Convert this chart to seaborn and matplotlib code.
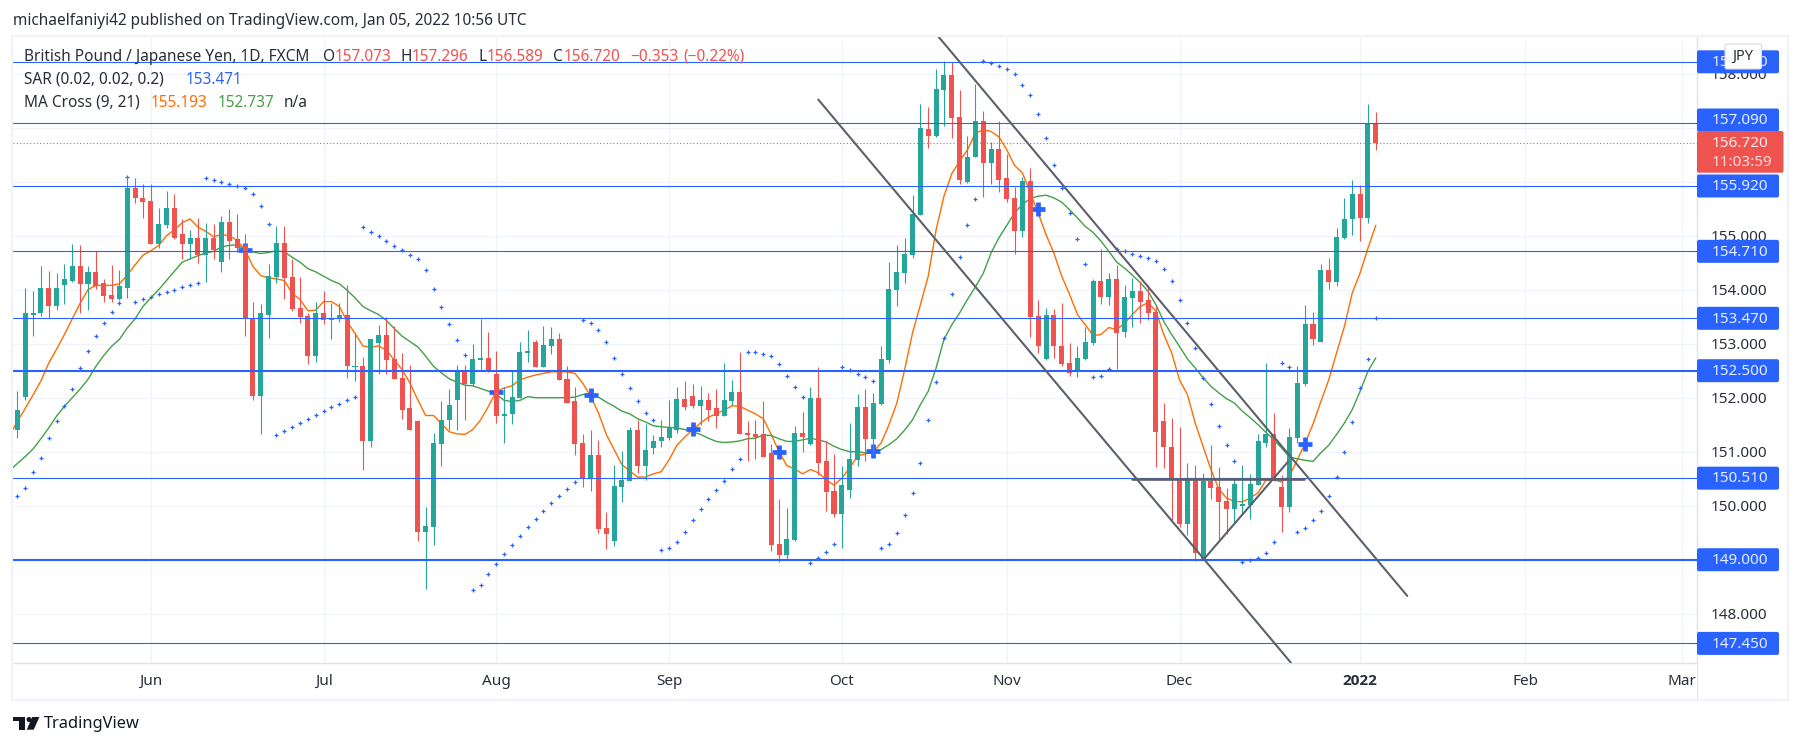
import numpy as np
import matplotlib
matplotlib.use('Agg')
import matplotlib.pyplot as plt
from matplotlib.patches import Rectangle, FancyBboxPatch, Circle, Polygon
from matplotlib.transforms import IdentityTransform
import seaborn as sns

# daily GBP/JPY candles
opens = [151.41, 152.02, 153.54, 153.56, 154.04, 153.70, 154.09, 154.17, 154.43, 154.11,
         154.32, 154.13, 153.91, 153.83, 154.04, 155.89, 155.69, 155.65, 154.85, 155.20,
         155.52, 155.04, 154.85, 154.95, 154.65, 154.96, 154.52, 155.26, 154.93, 154.80,
         153.47, 152.04, 153.54, 154.24, 154.87, 154.24, 153.67, 153.52, 152.78, 153.57,
         153.43, 153.46, 153.54, 152.57, 152.59, 151.19, 153.02, 153.17, 152.72, 152.37,
         151.80, 151.56, 149.52, 149.61, 151.15, 151.58, 151.95, 152.50, 152.26, 152.70,
         152.74, 152.43, 151.67, 151.69, 152.00, 152.83, 153.04, 152.57, 152.96, 153.09,
         152.35, 151.93, 151.17, 150.50, 150.93, 149.58, 149.35, 150.35, 150.45, 151.41,
         150.74, 151.06, 151.19, 151.26, 151.41, 151.98, 152.04, 151.85, 151.95, 151.80,
         151.67, 151.93, 152.11, 151.35, 151.32, 151.32, 150.98, 149.30, 149.09, 149.37,
         151.35, 151.15, 152.00, 150.82, 150.28, 149.85, 150.30, 150.85, 151.82, 151.24,
         151.89, 152.70, 154.00, 154.31, 154.65, 155.39, 156.98, 156.85, 157.70, 157.98,
         157.19, 156.00, 156.45, 157.13, 156.35, 156.61, 156.06, 155.69, 155.08, 156.02,
         153.52, 152.72, 153.54, 152.96, 152.65, 152.47, 152.72, 153.02, 154.17, 153.87,
         154.19, 153.21, 153.85, 153.98, 153.80, 153.58, 151.56, 151.09, 150.48, 149.67,
         150.48, 149.00, 150.46, 150.34, 150.08, 149.93, 150.00, 150.02, 150.39, 151.17,
         151.32, 150.35, 149.98, 151.26, 152.26, 153.37, 153.04, 154.37, 154.15, 154.96,
         155.30, 155.78, 155.33, 157.073]
highs = [152.13, 154.04, 153.98, 154.44, 154.35, 154.30, 154.48, 154.85, 154.83, 154.43,
         154.71, 154.20, 154.46, 154.37, 156.10, 156.07, 155.95, 155.96, 155.52, 155.83,
         155.78, 155.30, 155.11, 155.33, 155.24, 155.22, 155.37, 155.50, 155.41, 155.04,
         153.78, 153.74, 154.48, 155.17, 155.17, 154.56, 154.24, 153.56, 153.78, 153.98,
         153.76, 153.76, 154.09, 153.19, 152.76, 153.09, 153.35, 153.50, 153.32, 152.82,
         152.61, 151.58, 149.98, 151.35, 151.93, 152.17, 152.61, 152.61, 153.00, 153.45,
         153.22, 152.87, 152.20, 152.52, 153.04, 153.26, 153.07, 153.33, 153.30, 153.20,
         152.59, 152.20, 151.33, 151.41, 151.22, 149.89, 150.76, 151.02, 151.46, 151.59,
         151.52, 151.30, 151.59, 151.96, 152.20, 152.30, 152.26, 152.22, 152.09, 152.17,
         152.65, 152.33, 152.85, 151.56, 151.58, 151.93, 151.15, 150.13, 149.96, 151.48,
         151.74, 152.20, 152.57, 151.20, 150.96, 150.74, 151.54, 152.06, 152.17, 152.09,
         152.95, 154.51, 154.83, 154.96, 155.76, 157.44, 157.39, 158.09, 158.24, 158.22,
         157.69, 156.85, 157.80, 157.30, 156.74, 157.13, 156.52, 155.91, 156.09, 156.26,
         153.80, 153.67, 153.65, 153.76, 153.02, 152.95, 153.30, 154.20, 154.76, 154.30,
         154.46, 154.08, 154.22, 154.17, 154.08, 153.69, 151.91, 151.63, 151.45, 150.80,
         150.76, 150.61, 151.13, 150.71, 150.32, 150.52, 150.76, 150.59, 151.32, 152.65,
         151.72, 150.56, 151.43, 152.59, 153.72, 153.58, 154.48, 154.59, 155.14, 155.69,
         156.04, 155.93, 157.44, 157.296]
lows = [151.26, 151.96, 153.15, 153.52, 153.48, 153.63, 153.74, 154.15, 153.56, 153.63,
        154.02, 153.78, 153.78, 153.80, 153.85, 155.61, 155.32, 154.85, 154.78, 155.15,
        154.93, 154.56, 154.57, 154.50, 154.15, 154.57, 154.33, 154.56, 154.69, 153.15,
        151.96, 151.32, 153.11, 154.13, 153.83, 153.61, 153.39, 152.63, 152.67, 153.37,
        153.09, 153.41, 152.37, 152.30, 150.67, 151.09, 152.43, 152.43, 152.35, 151.61,
        151.41, 149.34, 148.45, 149.28, 150.74, 151.41, 151.41, 151.58, 152.21, 152.52,
        152.48, 151.54, 151.17, 151.52, 152.00, 152.67, 152.57, 152.57, 152.80, 152.33,
        151.91, 150.93, 150.35, 150.28, 149.50, 149.19, 149.26, 150.06, 150.45, 150.61,
        150.47, 150.95, 151.08, 151.22, 151.35, 151.78, 151.80, 151.50, 151.56, 151.43,
        151.67, 151.87, 151.33, 150.83, 150.87, 150.91, 149.17, 148.95, 149.02, 149.34,
        151.00, 151.13, 150.56, 149.91, 149.80, 149.22, 150.15, 150.74, 150.82, 150.92,
        151.87, 152.65, 153.69, 154.13, 154.59, 155.39, 156.63, 156.83, 157.04, 156.80,
        155.95, 155.98, 156.45, 155.72, 155.95, 155.80, 155.63, 154.67, 154.98, 153.13,
        152.82, 152.70, 152.74, 152.58, 152.41, 152.39, 152.70, 152.98, 153.74, 153.72,
        152.54, 153.13, 153.30, 153.39, 153.43, 150.72, 150.69, 149.73, 149.61, 149.45,
        148.97, 149.00, 150.13, 149.37, 149.48, 149.67, 149.85, 149.76, 150.38, 151.09,
        150.45, 149.52, 149.89, 151.16, 152.21, 152.98, 153.03, 154.02, 154.06, 154.93,
        155.02, 154.91, 155.24, 156.589]
closes = [151.78, 153.56, 153.57, 154.04, 153.70, 154.04, 154.19, 154.43, 154.11, 154.32,
          154.06, 153.89, 153.83, 154.06, 155.89, 155.70, 155.63, 154.85, 155.22, 155.52,
          154.96, 154.85, 154.95, 154.65, 154.96, 154.74, 155.26, 154.91, 154.78, 153.45,
          152.04, 153.56, 154.26, 154.87, 154.22, 153.65, 153.50, 152.78, 153.57, 153.43,
          153.48, 153.54, 152.58, 152.59, 151.19, 153.09, 153.17, 152.70, 152.35, 151.78,
          151.41, 149.52, 149.63, 151.17, 151.59, 151.87, 152.50, 152.26, 152.72, 152.74,
          152.48, 151.67, 151.70, 152.02, 152.85, 152.87, 152.57, 152.98, 153.09, 152.33,
          151.91, 151.15, 150.50, 150.93, 149.56, 149.48, 150.37, 150.47, 151.41, 150.74,
          151.04, 151.20, 151.28, 151.43, 151.98, 151.83, 151.85, 151.95, 151.78, 151.67,
          151.95, 152.11, 151.33, 151.30, 151.28, 150.91, 149.28, 149.09, 149.39, 151.35,
          151.28, 152.00, 150.80, 150.26, 149.85, 150.39, 150.87, 151.82, 151.24, 151.91,
          152.72, 154.01, 154.33, 154.67, 155.41, 157.00, 156.85, 157.72, 157.98, 157.17,
          156.04, 156.46, 157.13, 156.35, 156.61, 156.04, 155.67, 155.08, 156.02, 153.50,
          152.95, 153.54, 152.95, 152.63, 152.46, 152.74, 153.04, 154.17, 153.87, 154.19,
          153.19, 153.87, 153.98, 153.78, 153.56, 151.37, 151.08, 150.47, 149.67, 150.48,
          149.13, 150.46, 150.32, 150.06, 149.93, 150.41, 150.04, 150.41, 151.19, 151.32,
          150.45, 149.98, 151.28, 152.28, 153.37, 153.08, 154.37, 154.15, 154.98, 155.31,
          155.78, 155.33, 157.09, 156.72]

# MA cross lines, the first value belongs to the bar just left of the chart
ma_fast = [151.30,
           151.56, 151.80, 152.05, 152.31, 152.64, 152.90, 153.17, 153.46, 153.75, 154.00,
           154.08, 154.08, 154.08, 154.11, 154.27, 154.46, 154.64, 154.72, 154.82, 155.00,
           155.11, 155.24, 155.31, 155.16, 155.08, 154.98, 155.02, 155.00, 154.91, 154.74,
           154.43, 154.26, 154.22, 154.20, 154.17, 153.93, 153.82, 153.61, 153.62, 153.78,
           153.78, 153.69, 153.41, 153.19, 152.96, 152.93, 152.96, 152.88, 152.70, 152.52,
           152.27, 151.96, 151.67, 151.67, 151.52, 151.37, 151.33, 151.32, 151.41, 151.59,
           151.84, 152.12, 152.18, 152.22, 152.33, 152.38, 152.42, 152.45, 152.48, 152.48,
           152.48, 152.45, 152.27, 152.03, 151.72, 151.32, 151.04, 150.76, 150.64, 150.53,
           150.53, 150.59, 150.63, 150.85, 151.12, 151.27, 151.41, 151.53, 151.64, 151.70,
           151.77, 151.85, 151.84, 151.77, 151.70, 151.61, 151.32, 151.00, 150.74, 150.68,
           150.59, 150.67, 150.61, 150.48, 150.38, 150.51, 150.70, 150.92, 150.96, 151.00,
           151.16, 151.50, 151.90, 152.52, 153.20, 153.72, 154.25, 155.11, 155.73, 156.15,
           156.38, 156.59, 156.90, 156.96, 156.93, 156.83, 156.59, 156.30, 156.16, 155.79,
           155.42, 155.02, 154.68, 154.25, 153.91, 153.54, 153.35, 153.15, 153.17, 153.30,
           153.26, 153.38, 153.54, 153.69, 153.76, 153.60, 153.17, 152.83, 152.33, 152.06,
           151.53, 151.10, 150.67, 150.31, 150.14, 150.08, 150.07, 150.14, 150.24, 150.47,
           150.48, 150.44, 150.55, 150.85, 151.16, 151.51, 151.93, 152.33, 152.83, 153.32,
           153.94, 154.31, 154.77, 155.193]
ma_slow = [150.65,
           150.78, 150.91, 151.05, 151.24, 151.44, 151.66, 151.84, 152.00, 152.16, 152.34,
           152.58, 152.78, 152.95, 153.08, 153.29, 153.46, 153.69, 153.85, 154.00, 154.17,
           154.34, 154.51, 154.57, 154.63, 154.68, 154.71, 154.79, 154.82, 154.83, 154.74,
           154.70, 154.67, 154.69, 154.72, 154.70, 154.60, 154.51, 154.39, 154.33, 154.25,
           154.17, 154.11, 153.99, 153.85, 153.69, 153.61, 153.54, 153.43, 153.28, 153.14,
           153.04, 152.94, 152.77, 152.58, 152.46, 152.35, 152.29, 152.23, 152.22, 152.17,
           152.12, 152.06, 151.95, 151.93, 151.95, 152.02, 152.00, 152.00, 152.00, 152.00,
           152.00, 152.01, 152.06, 152.06, 152.01, 151.92, 151.84, 151.75, 151.70, 151.61,
           151.55, 151.48, 151.46, 151.45, 151.44, 151.41, 151.37, 151.32, 151.25, 151.19,
           151.17, 151.18, 151.20, 151.24, 151.25, 151.31, 151.30, 151.24, 151.19, 151.19,
           151.22, 151.25, 151.22, 151.18, 151.10, 151.04, 151.00, 151.00, 150.98, 150.98,
           151.04, 151.13, 151.24, 151.40, 151.59, 151.87, 152.12, 152.55, 153.08, 153.35,
           153.57, 153.82, 154.05, 154.30, 154.68, 154.96, 155.19, 155.42, 155.58, 155.69,
           155.73, 155.75, 155.70, 155.62, 155.48, 155.33, 155.17, 155.06, 154.90, 154.71,
           154.51, 154.40, 154.27, 154.13, 153.97, 153.72, 153.41, 153.17, 152.95, 152.72,
           152.55, 152.37, 152.21, 152.09, 151.98, 151.90, 151.75, 151.63, 151.50, 151.36,
           151.22, 151.07, 150.90, 150.87, 150.84, 150.82, 150.98, 151.12, 151.32, 151.53,
           151.78, 152.12, 152.49, 152.737]
sar = [150.18, 150.33, 150.62, 150.88, 151.26, 151.56, 151.84, 152.16, 152.55, 152.87,
       153.14, 153.38, 153.58, 153.75, 156.09, 153.77, 153.83, 153.87, 153.92, 153.96,
       154.00, 154.05, 154.09, 154.13, 156.07, 156.03, 156.00, 155.96, 155.92, 155.88,
       155.77, 155.55, 155.22, 151.30, 151.38, 151.46, 151.53, 151.61, 151.68, 151.75,
       151.83, 151.88, 151.96, 152.01, 155.16, 155.07, 154.99, 154.90, 154.81, 154.73,
       154.64, 154.57, 154.36, 154.01, 153.68, 153.36, 153.07, 152.79, 148.44, 148.53,
       148.73, 148.92, 149.11, 149.27, 149.44, 149.61, 149.76, 149.90, 150.05, 150.18,
       150.31, 150.44, 153.44, 153.38, 153.25, 153.03, 152.74, 152.44, 152.18, 151.94,
       151.72, 151.59, 149.18, 149.22, 149.33, 149.52, 149.74, 149.94, 150.13, 150.29,
       150.46, 150.68, 150.87, 152.85, 152.85, 152.81, 152.77, 152.62, 152.40, 152.20,
       152.01, 148.94, 149.03, 149.14, 149.29, 152.57, 152.52, 152.44, 152.38, 152.31,
       149.22, 149.29, 149.50, 149.83, 150.24, 150.79, 151.59, 152.29, 153.11, 153.92,
       154.61, 155.20, 155.68, 158.23, 158.20, 158.14, 158.09, 157.99, 157.79, 157.60,
       157.25, 156.81, 156.31, 155.88, 155.42, 154.94, 154.48, 152.39, 152.40, 152.53,
       154.75, 154.72, 154.66, 154.63, 154.59, 154.53, 154.38, 154.16, 153.81, 153.38,
       152.92, 152.37, 151.88, 151.48, 151.13, 150.83, 148.96, 148.99, 149.03, 149.13,
       149.33, 152.64, 152.57, 149.52, 149.59, 149.74, 149.90, 150.18, 150.53, 151.00,
       151.55, 152.18, 152.72, 153.471]

# crossover markers
cross_bars = [29, 61, 73, 86, 97, 109, 130, 164]
cross_prices = [154.74, 152.10, 152.05, 151.42, 150.99, 151.01, 155.49, 151.14]

# levels drawn on the chart
levels = [158.22, 157.09, 155.92, 154.71, 153.47, 152.50, 150.51, 149.00, 147.45]
thick_levels = [152.50, 149.00]
last_price = 156.72

# trend lines as (bar, price) pairs
channel_upper = ([117.1, 177.0], [158.72, 148.33])
channel_lower = ([102.0, 162.2], [157.52, 147.09])
rising_line = ([151.1, 161.85], [149.01, 150.82])
flat_line = ([142.0, 163.9], [150.49, 150.49])

month_bars = [17, 39, 61, 83, 105, 126, 148, 171, 192, 212]
month_labels = ['Jun', 'Jul', 'Aug', 'Sep', 'Oct', 'Nov', 'Dec', '2022', 'Feb', 'Mar']
price_ticks = [148, 149, 150, 151, 152, 153, 154, 155, 156, 157, 158]
# 149, 156 and 157 sit fully behind the level labels in the picture
price_labels = ['148.000', '', '150.000', '151.000', '152.000', '153.000', '154.000', '155.000', '', '', '158.000']

UP = '#26a69a'
DOWN = '#ef5350'
BLUE = '#2962ff'
ORANGE = '#ff6d00'
GREEN = '#43a047'
GREY = '#5d606b'
INK = '#2a2e39'
FRAME = '#f0f3fa'
LEGEND_SIZE = 11.1
W, H = 1801, 747

sns.set_theme(style='white')
plt.rcParams['font.family'] = ['Noto Sans', 'DejaVu Sans']

fig = plt.figure(figsize=(W / 100, H / 100), dpi=100, facecolor='white')
ax = fig.add_axes([13.4 / W, 1 - 663.4 / H, (1697 - 13.4) / W, (663.7 - 36.7) / H])
ax.set_xlim(-0.5, 213.9)
ax.set_ylim(147.08, 158.69)


def put(x, y, s, **kw):
    # text placed in picture pixels, y counted from the top
    kw.setdefault('color', INK)
    kw.setdefault('fontsize', LEGEND_SIZE)
    kw.setdefault('va', 'center')
    return fig.text(x, H - y, s, transform=IdentityTransform(), **kw)


def box(x, y, w, h, color, **kw):
    p = FancyBboxPatch((x, H - y - h), w, h, boxstyle='round,pad=0,rounding_size=2',
                       facecolor=color, transform=IdentityTransform(), **kw)
    fig.add_artist(p)


bars = np.arange(len(closes))
colors = [UP if c >= o else DOWN for o, c in zip(opens, closes)]
body_low = np.minimum(opens, closes)
body_size = np.abs(np.array(closes) - np.array(opens))

# grid
ax.set_axisbelow(True)
for s in ['top', 'left']:
    ax.spines[s].set_visible(False)
for s in ['right', 'bottom']:
    ax.spines[s].set_color('#e0e3eb')
    ax.spines[s].set_linewidth(1)

# indicators sit under the candles
sns.lineplot(x=np.arange(-1, len(closes)), y=ma_fast, color=ORANGE, linewidth=1, errorbar=None, ax=ax, zorder=2)
sns.lineplot(x=np.arange(-1, len(closes)), y=ma_slow, color=GREEN, linewidth=1, errorbar=None, ax=ax, zorder=2)
sns.scatterplot(x=bars, y=sar, marker='+', color=BLUE, s=9, linewidth=0.9, legend=False, ax=ax, zorder=2.2)
sns.scatterplot(x=cross_bars, y=cross_prices, marker='+', color=BLUE, s=105, linewidth=3.4, legend=False, ax=ax, zorder=2.4)

ax.vlines(bars, lows, highs, colors=colors, linewidth=0.8, zorder=3)
ax.bar(bars, body_size, bottom=body_low, width=0.64, color=colors, linewidth=0, zorder=3.1)

for lev in levels:
    ax.axhline(lev, color=BLUE, linewidth=1.5 if lev in thick_levels else 0.8, zorder=4)
ax.axhline(last_price, color=DOWN, linewidth=0.8, linestyle=(0, (1, 2)), zorder=4)

for xs, ys in [channel_upper, channel_lower, rising_line]:
    ax.plot(xs, ys, color=GREY, linewidth=1.5, zorder=5)
ax.plot(flat_line[0], flat_line[1], color=GREY, linewidth=1.9, zorder=5)

ax.set_xlim(-0.5, 213.9)
ax.set_ylim(147.08, 158.69)
ax.set_xlabel('')
ax.set_ylabel('')
ax.set_xticks(month_bars, month_labels)
ax.yaxis.tick_right()
ax.set_yticks(price_ticks, price_labels)
ax.grid(True, color=FRAME, linewidth=0.9, zorder=0)
ax.tick_params(axis='both', length=0, labelsize=11, labelcolor=INK)
ax.tick_params(axis='x', pad=7.5)
ax.tick_params(axis='y', pad=10)
for label in ax.get_xticklabels():
    if label.get_text() == '2022':
        label.set_family('Open Sans')
        label.set_fontweight('bold')

# frame round the chart and the price axis running down into the time axis
fig.add_artist(Rectangle((12, H - 700), 1776, 664.5, fill=False, edgecolor=FRAME, linewidth=1.5,
                         transform=IdentityTransform()))
fig.add_artist(Rectangle((1697, H - 700), 0.8, 37, facecolor='#e0e3eb', linewidth=0,
                         transform=IdentityTransform()))

# price labels on the axis
for lev in levels:
    y = H - ax.transData.transform((0, lev))[1]
    if lev == 157.09:
        y -= 2.8
    box(1697, y - 11.5, 82, 23, BLUE, linewidth=0)
    put(1711.5, y + 0.8, f'{lev:.3f}', color='#e8eeff', fontsize=11)

y = H - ax.transData.transform((0, last_price))[1]
box(1697, 131, 86.5, 41.7, DOWN, linewidth=0, zorder=3.5)
put(1711.5, y + 0.8, f'{last_price:.3f}', color='#fff0f0', fontsize=11, zorder=3.6)
put(1711.5, 162.7, '11:03:59', color='#fddcdc', fontsize=11, zorder=3.6)

# currency button covers the top label
box(1725, 44, 36.5, 25, 'white', edgecolor='#d6d8e0', linewidth=0.8, zorder=5)
put(1743, 56.5, 'JPY', ha='center', fontsize=10.5, zorder=6)

# header and legend
put(13, 20.7, 'michaelfaniyi42 published on TradingView.com, Jan 05, 2022 10:56 UTC')
put(24, 56.7, 'British Pound / Japanese Yen, 1D, FXCM')
put(323, 56.7, 'O')
put(335, 56.7, '157.073', color=DOWN)
put(400.7, 56.7, 'H')
put(412, 56.7, '157.296', color=DOWN)
put(478, 56.7, 'L')
put(487, 56.7, '156.589', color=DOWN)
put(553, 56.7, 'C')
put(563.7, 56.7, '156.720', color=DOWN)
put(630, 56.7, '\u22120.353', color=DOWN)
put(683, 56.7, '(\u22120.22%)', color=DOWN)
put(24, 80, 'SAR (0.02, 0.02, 0.2)')
put(185.6, 80, '153.471', color=BLUE)
put(24, 102.7, 'MA Cross (9, 21)')
put(151, 102.7, '155.193', color=ORANGE)
put(218, 102.7, '152.737', color=GREEN)
put(284, 102.7, 'n/a')

# wordmark at the bottom
mark = '#131722'
fig.add_artist(Polygon([(13, H - 717), (25, H - 717), (25, H - 729.7), (19, H - 729.7), (19, H - 721.3), (13, H - 721.3)],
                       facecolor=mark, linewidth=0, transform=IdentityTransform()))
fig.add_artist(Circle((29, H - 719.5), 2.5, facecolor=mark, linewidth=0, transform=IdentityTransform()))
fig.add_artist(Polygon([(32.1, H - 717), (39.4, H - 717), (33.7, H - 729.7), (26.8, H - 729.7)],
                       facecolor=mark, linewidth=0, transform=IdentityTransform()))
put(44, 723.5, 'TradingView', color=mark, fontsize=11.8)

fig.savefig('out.png', dpi=100)
